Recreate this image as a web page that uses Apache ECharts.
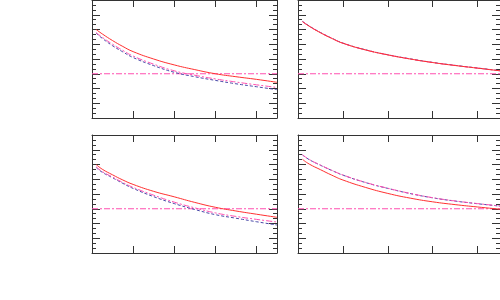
<!DOCTYPE html>
<html>
<head>
<meta charset="utf-8">
<script src="https://cdn.jsdelivr.net/npm/echarts@6/dist/echarts.min.js"></script>
<style>html,body{margin:0;padding:0;background:#fff;}#c{width:500px;height:300px;}</style>
</head>
<body>
<div id="c"></div>
<script>
// sample positions along x
const xs = [0.1, 0.25, 0.5, 0.75, 1, 1.5, 2, 2.5, 3, 3.5, 4, 4.5];
// top-left panel
const tlRed  = [6.0, 5.7, 5.25, 4.85, 4.5, 4.0, 3.6, 3.28, 3.0, 2.8, 2.62, 2.42];
const tlBlue = [5.75, 5.4, 4.9, 4.48, 4.1, 3.55, 3.1, 2.8, 2.55, 2.32, 2.12, 1.92];
const tlPink = [5.8, 5.47, 5.0, 4.58, 4.2, 3.65, 3.2, 2.9, 2.65, 2.44, 2.25, 2.07];
// top-right panel
const trRed  = [6.53, 6.22, 5.78, 5.4, 5.07, 4.62, 4.28, 4.0, 3.76, 3.56, 3.38, 3.2];
const trBlue = [6.55, 6.24, 5.8, 5.42, 5.08, 4.63, 4.29, 4.01, 3.77, 3.57, 3.39, 3.21];
const trPink = [6.54, 6.23, 5.79, 5.41, 5.07, 4.62, 4.28, 4.0, 3.76, 3.56, 3.38, 3.2];
// bottom-left panel
const blRed  = [6.0, 5.68, 5.3, 4.95, 4.65, 4.18, 3.81, 3.43, 3.1, 2.85, 2.63, 2.42];
const blBlue = [5.8, 5.47, 5.1, 4.72, 4.38, 3.82, 3.35, 2.95, 2.6, 2.36, 2.12, 1.9];
const blPink = [5.85, 5.52, 5.15, 4.78, 4.45, 3.92, 3.45, 3.06, 2.72, 2.48, 2.28, 2.1];
// bottom-right panel
const brRed  = [6.35, 6.03, 5.65, 5.28, 4.95, 4.45, 4.04, 3.72, 3.47, 3.28, 3.12, 2.97];
const brBlue = [6.65, 6.33, 5.95, 5.6, 5.28, 4.78, 4.38, 4.03, 3.74, 3.52, 3.34, 3.18];
const brPink = [6.66, 6.34, 5.96, 5.61, 5.29, 4.79, 4.39, 4.04, 3.75, 3.53, 3.35, 3.19];
// horizontal reference level
const refX = [0, 4.5];
const refLevel = 3;

const xMin = 0, xMax = 4.5, yMin = 0, yMax = 8;

const panels = [
  {red: tlRed, blue: tlBlue, pink: tlPink},
  {red: trRed, blue: trBlue, pink: trPink},
  {red: blRed, blue: blBlue, pink: blPink},
  {red: brRed, blue: brBlue, pink: brPink}
];

const grids = [
  {left: 92, top: 0, width: 185, height: 118},
  {left: 298, top: 0, width: 204, height: 118},
  {left: 92, top: 135, width: 185, height: 118},
  {left: 298, top: 135, width: 204, height: 118}
];

const axisColor = '#333';
const xAxes = [], yAxes = [], series = [];
grids.forEach((g, gi) => {
  ['bottom', 'top'].forEach(pos => {
    xAxes.push({
      type: 'value', gridIndex: gi, position: pos, min: xMin, max: xMax, interval: 1,
      axisLine: {show: true, onZero: false, lineStyle: {color: axisColor, width: 1}},
      axisTick: {show: true, inside: true, length: 7, lineStyle: {color: axisColor}},
      axisLabel: {show: false}, splitLine: {show: false}
    });
  });
  ['left', 'right'].forEach(pos => {
    yAxes.push({
      type: 'value', gridIndex: gi, position: pos, min: yMin, max: yMax, interval: 1,
      axisLine: {show: true, onZero: false, lineStyle: {color: axisColor, width: 1}},
      axisTick: {show: true, inside: true, length: 8, lineStyle: {color: axisColor}},
      minorTick: {show: true, splitNumber: 3, length: 4, lineStyle: {color: axisColor}},
      axisLabel: {show: false}, splitLine: {show: false}, minorSplitLine: {show: false}
    });
  });
  const p = panels[gi];
  const xi = gi * 2, yi = gi * 2;
  const mk = arr => xs.map((x, i) => [x, arr[i]]);
  series.push({
    type: 'line', xAxisIndex: xi, yAxisIndex: yi, showSymbol: false, silent: true,
    data: refX.map(x => [x, refLevel]),
    lineStyle: {color: '#ff4fb0', width: 1, type: [6, 2, 2, 2]}
  });
  series.push({
    type: 'line', xAxisIndex: xi, yAxisIndex: yi, showSymbol: false, smooth: true,
    data: mk(p.blue), lineStyle: {color: '#4848a8', width: 1, type: [3, 2]}
  });
  series.push({
    type: 'line', xAxisIndex: xi, yAxisIndex: yi, showSymbol: false, smooth: true,
    data: mk(p.pink), lineStyle: {color: '#ff4fb0', width: 1, type: [6, 2, 2, 2]}
  });
  series.push({
    type: 'line', xAxisIndex: xi, yAxisIndex: yi, showSymbol: false, smooth: true,
    data: mk(p.red), lineStyle: {color: '#ff3030', width: 1}
  });
});

const chart = echarts.init(document.getElementById('c'), null, {renderer: 'canvas'});
chart.setOption({
  animation: false,
  backgroundColor: '#fff',
  grid: grids.map(g => Object.assign({containLabel: false, show: false}, g)),
  xAxis: xAxes,
  yAxis: yAxes,
  series: series
});
</script>
</body>
</html>
